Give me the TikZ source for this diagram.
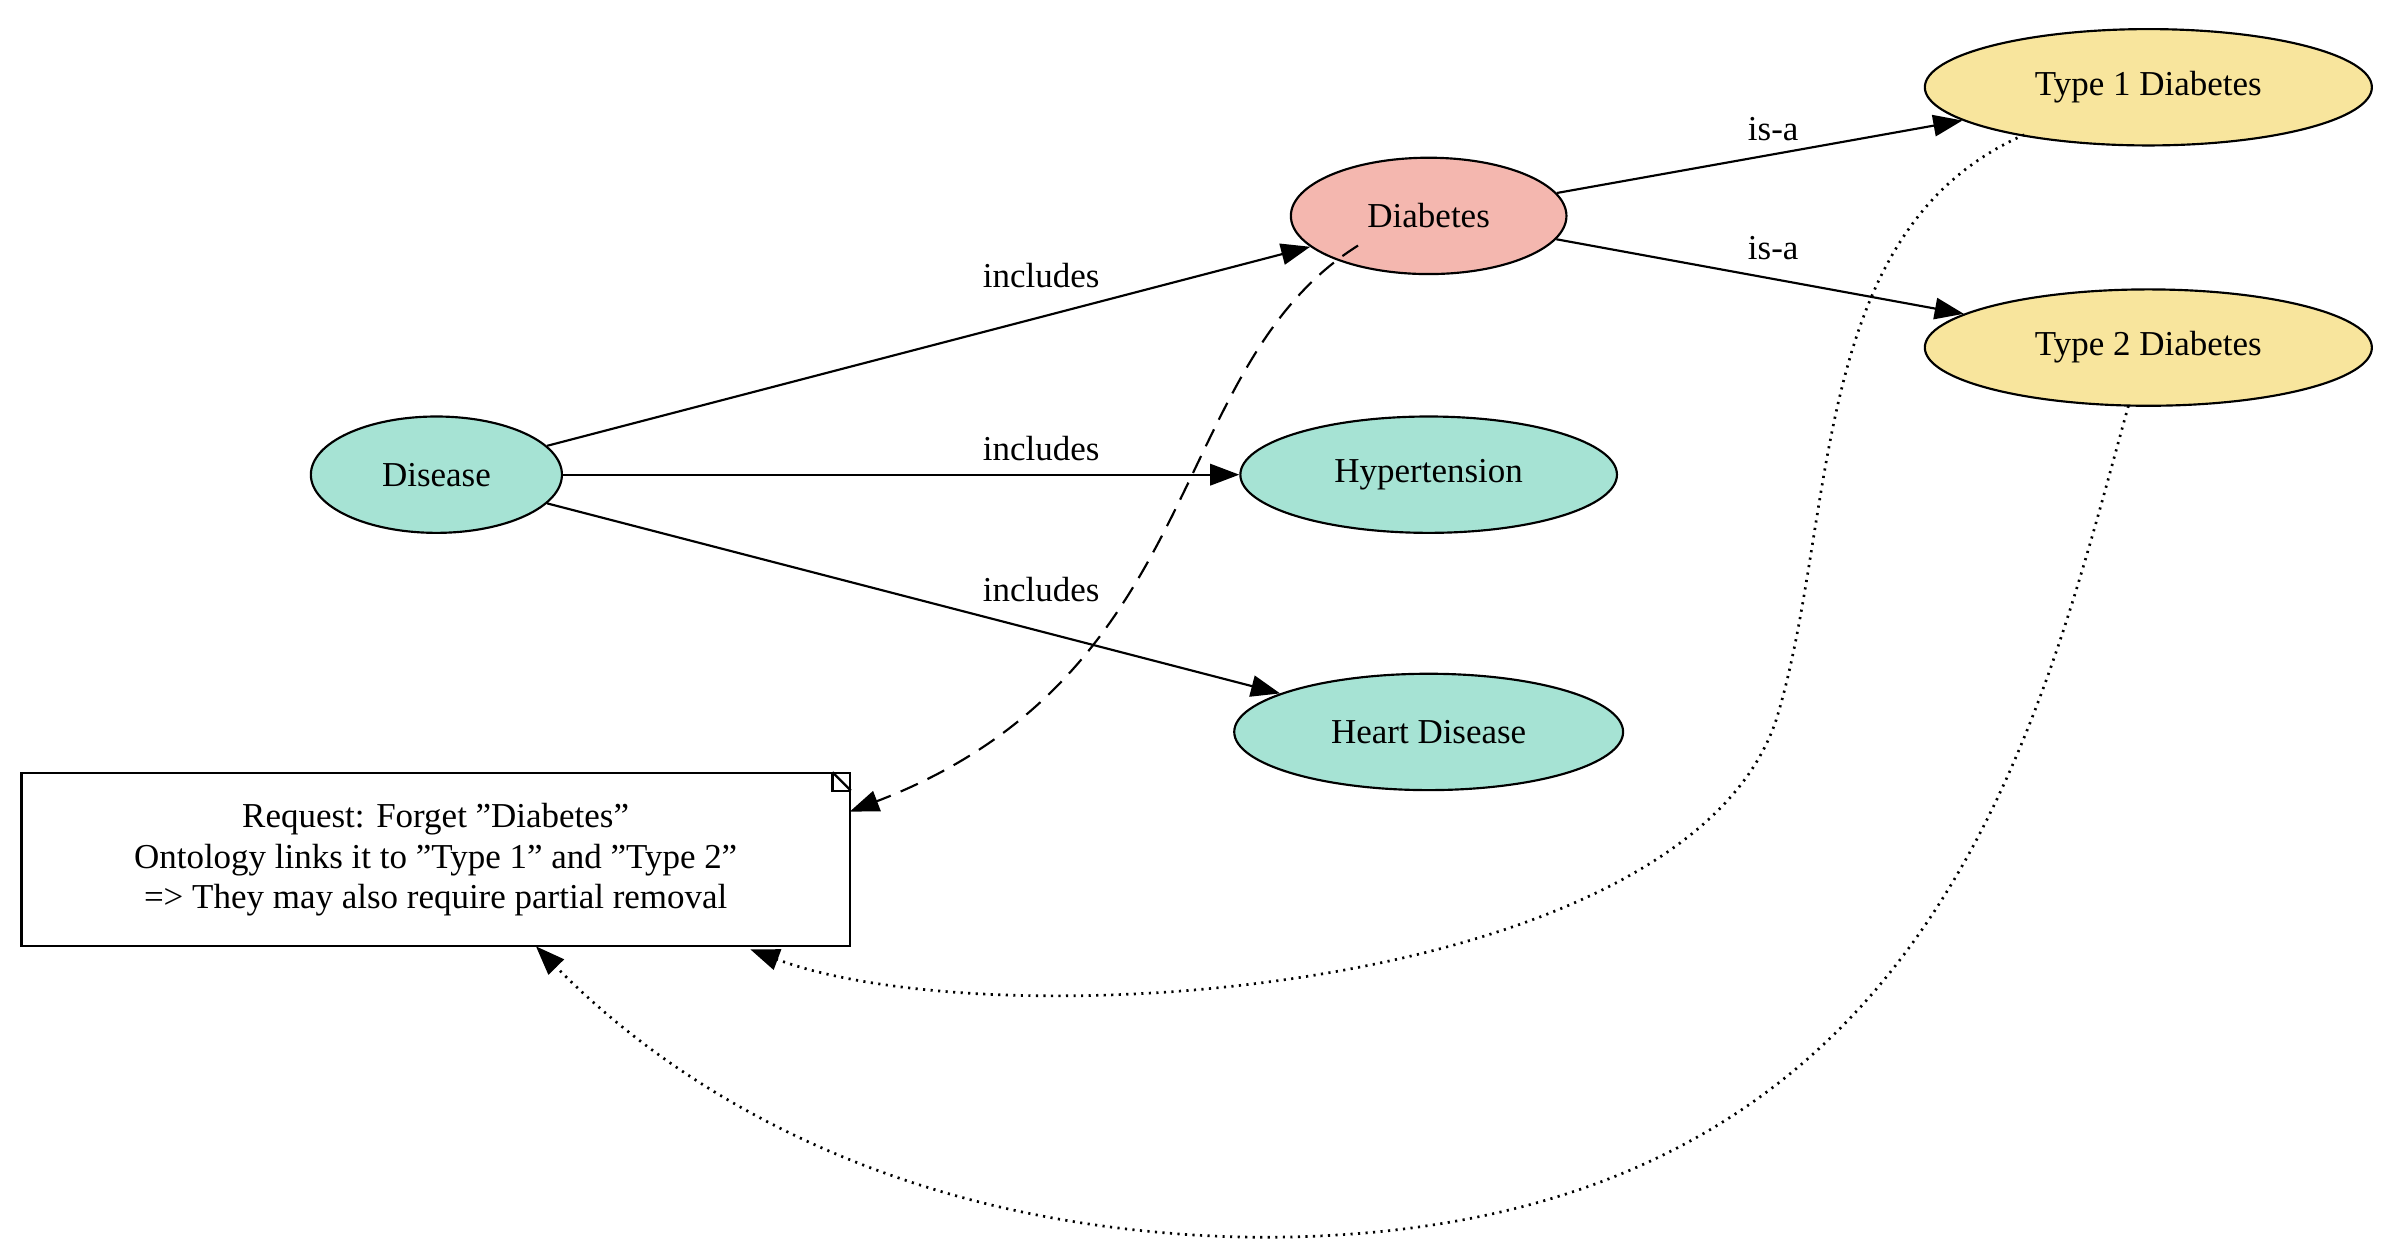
\documentclass[tikz,border=0pt]{standalone}
\usepackage{fontspec}
\setmainfont{Liberation Serif}
\usetikzlibrary{shapes.geometric,arrows.meta}
\definecolor{teal}{HTML}{A6E3D4}
\definecolor{pinkc}{HTML}{F4B7AF}
\definecolor{yel}{HTML}{F8E59D}
\begin{document}
\begin{tikzpicture}[x=0.02cm,y=0.02cm,
  nd/.style={ellipse,draw,line width=0.8pt,inner sep=0pt,minimum height=1.52cm,font=\fontsize{13}{15}\selectfont},
  ar/.style={line width=0.8pt,-{Triangle[length=0.38cm,width=0.28cm]}},
  lb/.style={font=\fontsize{13}{15}\selectfont}]
\useasboundingbox (0,0) rectangle (1568,-820);
\node[nd,fill=teal,minimum width=3.28cm] (dis) at (285,-310) {Disease};
\node[nd,fill=pinkc,minimum width=3.6cm] (dia) at (933,-141) {Diabetes};
\node[nd,fill=teal,minimum width=4.92cm] (hyp) at (933,-310) {Hypertension};
\node[nd,fill=teal,minimum width=5.08cm] (hd) at (933,-478) {Heart Disease};
\node[nd,fill=yel,minimum width=5.84cm] (t1) at (1403,-57) {Type 1 Diabetes};
\node[nd,fill=yel,minimum width=5.84cm] (t2) at (1403,-227) {Type 2 Diabetes};
\node[draw,line width=0.8pt,minimum width=10.82cm,minimum height=2.26cm,align=center,lb,inner sep=2pt] (note) at (284.5,-561.5)
 {Request: Forget "Diabetes"\\Ontology links it to "Type 1" and "Type 2"\\=> They may also require partial removal};
\draw[line width=0.8pt,fill=white] ([xshift=-0.24cm]note.north east) -- ([xshift=-0.24cm,yshift=-0.24cm]note.north east) -- ([yshift=-0.24cm]note.north east);
\draw[line width=0.8pt] ([xshift=-0.24cm]note.north east) -- ([yshift=-0.24cm]note.north east);
\draw[ar] (dis) -- (dia) node[lb,pos=0.66,above=2pt,sloped,rotate=0] {};
\node[lb] at (680,-180) {includes};
\draw[ar] (dis) -- (hyp);
\node[lb] at (680,-293) {includes};
\draw[ar] (dis) -- (hd);
\node[lb] at (680,-385) {includes};
\draw[ar] (dia) -- (t1);
\node[lb] at (1158,-84) {is-a};
\draw[ar] (dia) -- (t2);
\node[lb] at (1158,-162) {is-a};
\coordinate (n1) at (555,-530);
\coordinate (n2) at (490,-620);
\coordinate (n3) at (350,-618);
\draw[ar,dashed,dash pattern=on 7pt off 4pt] (dia.south west) ++(18,8) .. controls (760,-240) and (790,-440) .. (n1);
\draw[ar,dotted,line width=1pt] (1322,-88) .. controls (1180,-150) and (1200,-340) .. (1160,-470) .. controls (1100,-650) and (650,-680) .. (n2);
\draw[ar,dotted,line width=1pt] (1390,-265) .. controls (1330,-480) and (1260,-810) .. (820,-808) .. controls (600,-805) and (450,-720) .. (n3);
\end{tikzpicture}
\end{document}
